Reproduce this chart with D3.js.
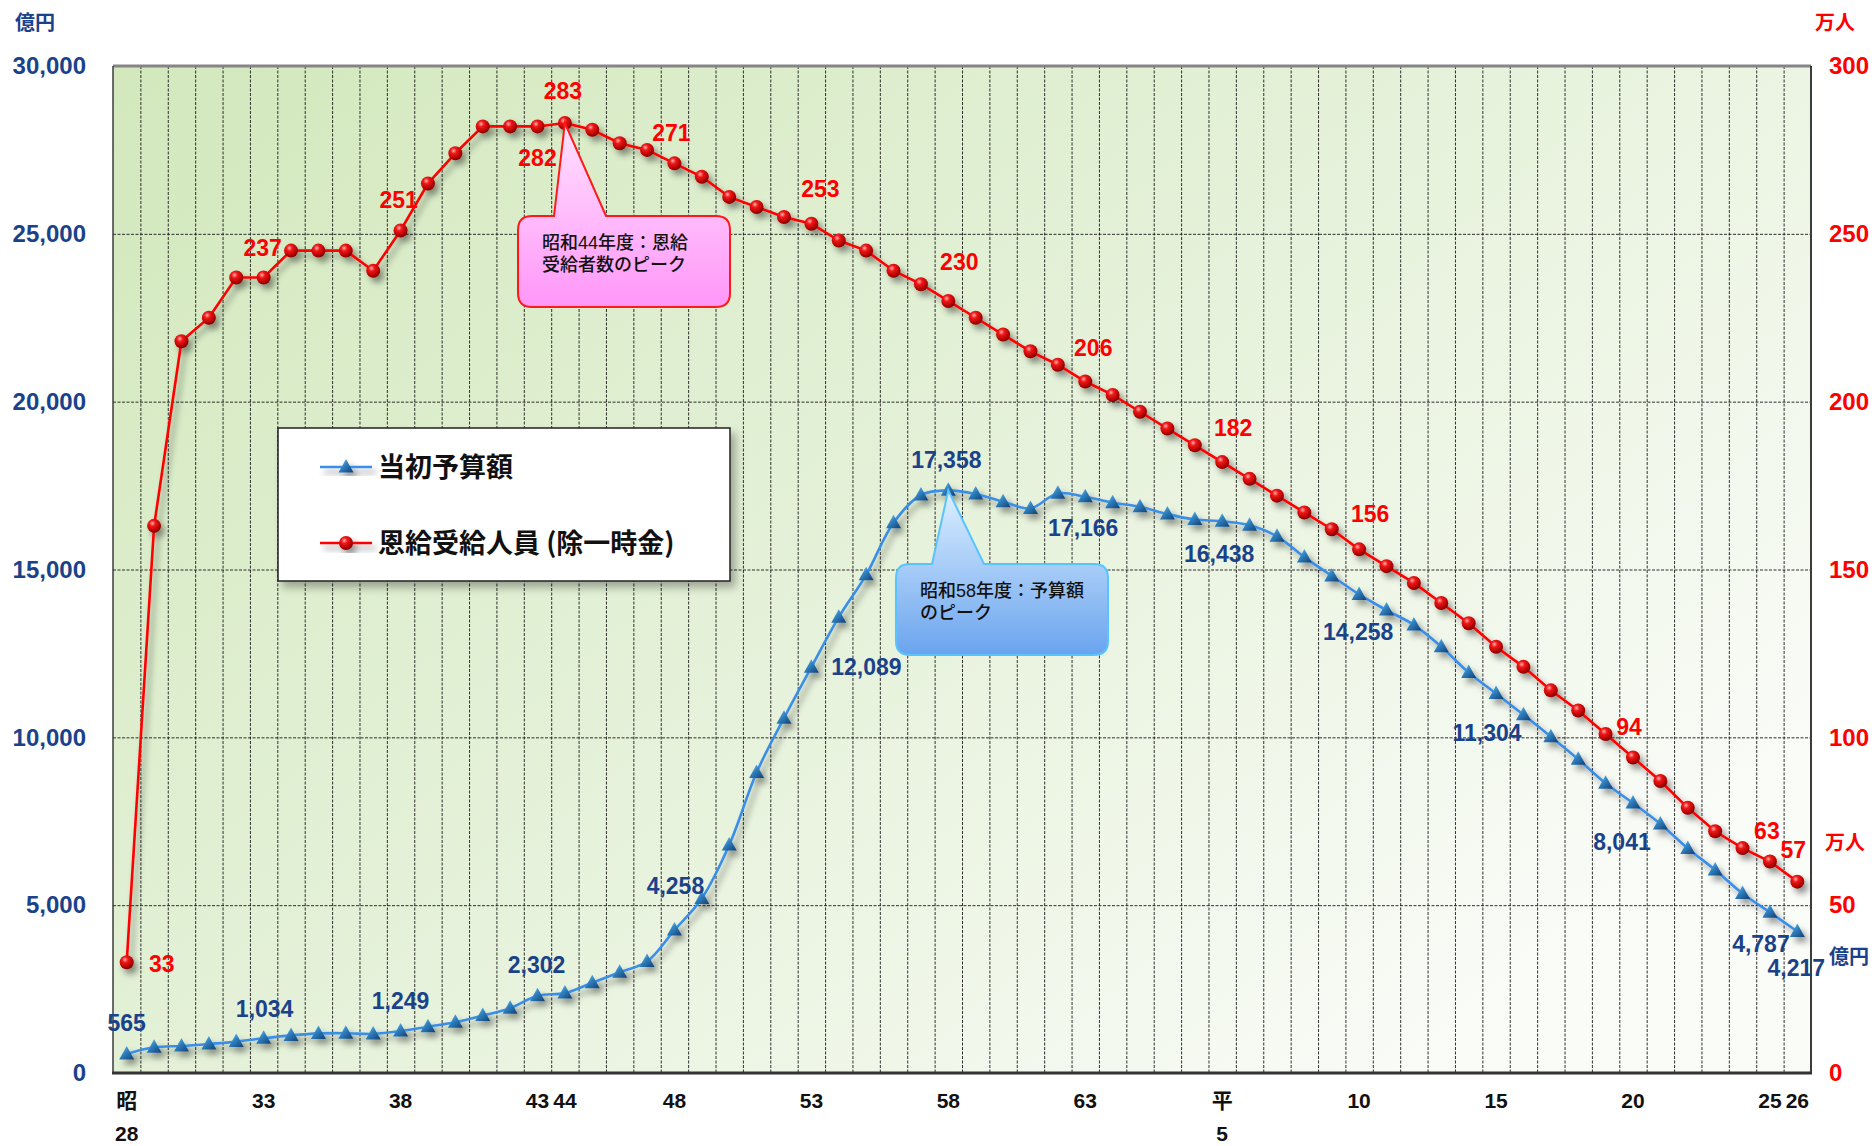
<!DOCTYPE html>
<html>
<head>
<meta charset="utf-8">
<script src="https://cdn.jsdelivr.net/npm/d3@7"></script>
<style>
  html, body { margin: 0; padding: 0; background: #fff; }
  svg { display: block; }
</style>
</head>
<body>
<svg id="chart" width="1874" height="1146"></svg>
<script>
// Fiscal years 昭和28 (1953) – 平成26 (2014)
const years = d3.range(1953, 2015);

// 当初予算額 (億円)
const budget = [
  565, 765, 805, 865, 935, 1034, 1120, 1180, 1185, 1165,
  1249, 1380, 1510, 1710, 1930, 2302, 2380, 2690, 3000, 3320,
  4258, 5200, 6790, 8950, 10570, 12089, 13580, 14840, 16390, 17220,
  17358, 17250, 17020, 16820, 17270, 17166, 16990, 16870, 16650, 16490,
  16438, 16320, 15990, 15370, 14810, 14258, 13790, 13350, 12700, 11930,
  11304, 10670, 10020, 9350, 8630, 8041, 7420, 6690, 6050, 5350,
  4787, 4217
];

// 恩給受給人員（除一時金）(万人)
const recipients = [
  33, 163, 218, 225, 237, 237, 245, 245, 245, 239,
  251, 265, 274, 282, 282, 282, 283, 281, 277, 275,
  271, 267, 261, 258, 255, 253, 248, 245, 239, 235,
  230, 225, 220, 215, 211, 206, 202, 197, 192, 187,
  182, 177, 172, 167, 162, 156, 151, 146, 140, 134,
  127, 121, 114, 108, 101, 94, 87, 79, 72, 67,
  63, 57
];

// Category axis labels (index into years → text lines)
const xTickIndex = [0, 5, 10, 15, 16, 20, 25, 30, 35, 40, 45, 50, 55, 60, 61];
const xTickText = [["昭", "28"], ["33"], ["38"], ["43"], ["44"], ["48"], ["53"], ["58"], ["63"],
                   ["平", "5"], ["10"], ["15"], ["20"], ["25"], ["26"]];

const leftTicks = [0, 5000, 10000, 15000, 20000, 25000, 30000];
const rightTicks = [0, 50, 100, 150, 200, 250, 300];

const seriesNames = ["当初予算額", "恩給受給人員 (除一時金)"];
const noteRecipients = ["昭和44年度：恩給", "受給者数のピーク"];
const noteBudget = ["昭和58年度：予算額", "のピーク"];

// Which points carry a value label, and where the label sits relative to the point
const budgetLabels = [
  {i: 0, dx: 0, dy: -31}, {i: 5, dx: 1, dy: -30}, {i: 10, dx: 0, dy: -30},
  {i: 15, dx: -1, dy: -31}, {i: 20, dx: 1, dy: -44}, {i: 25, dx: 55, dy: 0},
  {i: 30, dx: -2, dy: -31}, {i: 35, dx: -2, dy: 31}, {i: 40, dx: -3, dy: 32},
  {i: 45, dx: -1, dy: 37}, {i: 50, dx: -9, dy: 39}, {i: 55, dx: -11, dy: 39},
  {i: 60, dx: -9, dy: 31}, {i: 61, dx: -1, dy: 36}
];
const recipientLabels = [
  {i: 0, dx: 35, dy: 1}, {i: 5, dx: -1, dy: -30}, {i: 10, dx: -2, dy: -31},
  {i: 15, dx: 0, dy: 31}, {i: 16, dx: -2, dy: -32}, {i: 20, dx: -3, dy: -31},
  {i: 25, dx: 9, dy: -35}, {i: 30, dx: 11, dy: -39}, {i: 35, dx: 8, dy: -34},
  {i: 40, dx: 11, dy: -34}, {i: 45, dx: 11, dy: -36}, {i: 55, dx: -4, dy: -31},
  {i: 60, dx: -3, dy: -31}, {i: 61, dx: -4, dy: -32}
];

// ---- layout ----
const plot = {left: 113, right: 1811, top: 66, bottom: 1073};
const NAVY = "#1a428a";
const RED = "#ff0000";
const BLUE_LINE = "#3a8ee8";
const NUM_FONT = "'Liberation Sans', Arial, 'Noto Sans CJK JP', sans-serif";
const JP_FONT = "'Noto Sans CJK JP', 'Noto Sans', sans-serif";
const NOTE_FONT = "'Liberation Sans', 'Noto Sans CJK JP', sans-serif";

const svg = d3.select("#chart");

const x = d3.scaleBand().domain(years).range([plot.left, plot.right]).padding(0);
const cx = i => x(years[i]) + x.bandwidth() / 2;
const yL = d3.scaleLinear().domain([0, 30000]).range([plot.bottom, plot.top]);
const yR = d3.scaleLinear().domain([0, 300]).range([plot.bottom, plot.top]);

// ---- defs ----
const defs = svg.append("defs");

const bg = defs.append("linearGradient").attr("id", "plotBg")
  .attr("x1", 0).attr("y1", 0).attr("x2", 1).attr("y2", 0.7);
bg.append("stop").attr("offset", 0).attr("stop-color", "#d2e8bc");
bg.append("stop").attr("offset", 0.5).attr("stop-color", "#e4f1d8");
bg.append("stop").attr("offset", 1).attr("stop-color", "#fafcf8");

const sphere = defs.append("radialGradient").attr("id", "sphere")
  .attr("cx", "38%").attr("cy", "32%").attr("r", "70%");
sphere.append("stop").attr("offset", 0).attr("stop-color", "#ffb0b0");
sphere.append("stop").attr("offset", 0.3).attr("stop-color", "#f01818");
sphere.append("stop").attr("offset", 0.8).attr("stop-color", "#b00000");
sphere.append("stop").attr("offset", 1).attr("stop-color", "#700000");

const tri = defs.append("linearGradient").attr("id", "tri")
  .attr("x1", 0).attr("y1", 0).attr("x2", 1).attr("y2", 1);
tri.append("stop").attr("offset", 0).attr("stop-color", "#7fcaf2");
tri.append("stop").attr("offset", 0.45).attr("stop-color", "#2f80c0");
tri.append("stop").attr("offset", 1).attr("stop-color", "#123e72");

const pink = defs.append("linearGradient").attr("id", "pinkFill")
  .attr("x1", 0).attr("y1", 0).attr("x2", 0).attr("y2", 1);
pink.append("stop").attr("offset", 0).attr("stop-color", "#ffe2ff");
pink.append("stop").attr("offset", 1).attr("stop-color", "#ff96f8");

const sky = defs.append("linearGradient").attr("id", "skyFill")
  .attr("x1", 0).attr("y1", 0).attr("x2", 0).attr("y2", 1);
sky.append("stop").attr("offset", 0).attr("stop-color", "#dcefff");
sky.append("stop").attr("offset", 1).attr("stop-color", "#6aa4ee");

const shadow = defs.append("filter").attr("id", "shadow")
  .attr("x", "-10%").attr("y", "-10%").attr("width", "130%").attr("height", "130%");
shadow.append("feDropShadow").attr("dx", 4).attr("dy", 5).attr("stdDeviation", 3)
  .attr("flood-color", "#000").attr("flood-opacity", 0.42);

const boxShadow = defs.append("filter").attr("id", "boxShadow")
  .attr("x", "-10%").attr("y", "-10%").attr("width", "130%").attr("height", "130%");
boxShadow.append("feDropShadow").attr("dx", 5).attr("dy", 6).attr("stdDeviation", 4)
  .attr("flood-color", "#000").attr("flood-opacity", 0.3);

// ---- plot background ----
svg.append("rect")
  .attr("x", plot.left).attr("y", plot.top)
  .attr("width", plot.right - plot.left).attr("height", plot.bottom - plot.top)
  .attr("fill", "url(#plotBg)");

// ---- grid ----
const grid = svg.append("g").attr("stroke", "#1a1a1a").attr("stroke-width", 0.9)
  .attr("stroke-dasharray", "3,1.5");
grid.selectAll("line.v").data(years.slice(1)).join("line")
  .attr("class", "v")
  .attr("x1", d => x(d) + 0.5).attr("x2", d => x(d) + 0.5)
  .attr("y1", plot.top).attr("y2", plot.bottom);
grid.selectAll("line.h").data(leftTicks.filter(t => t > 0 && t < 30000)).join("line")
  .attr("class", "h")
  .attr("x1", plot.left).attr("x2", plot.right)
  .attr("y1", d => yL(d) + 0.5).attr("y2", d => yL(d) + 0.5);

// ---- frame ----
svg.append("line").attr("x1", plot.left).attr("x2", plot.right)
  .attr("y1", plot.top).attr("y2", plot.top)
  .attr("stroke", "#858585").attr("stroke-width", 3);
svg.append("line").attr("x1", plot.left).attr("x2", plot.left)
  .attr("y1", plot.top).attr("y2", plot.bottom)
  .attr("stroke", "#3c3c3c").attr("stroke-width", 1.5);
svg.append("line").attr("x1", plot.right).attr("x2", plot.right)
  .attr("y1", plot.top).attr("y2", plot.bottom)
  .attr("stroke", "#3c3c3c").attr("stroke-width", 2);
svg.append("line").attr("x1", plot.left - 1).attr("x2", plot.right + 1)
  .attr("y1", plot.bottom).attr("y2", plot.bottom)
  .attr("stroke", "#333").attr("stroke-width", 3);

// ---- axes ----
const axL = svg.append("g").attr("transform", `translate(${plot.left},0)`)
  .call(d3.axisLeft(yL).tickValues(leftTicks).tickFormat(d3.format(",")).tickSize(0).tickPadding(27));
axL.select(".domain").remove();
axL.selectAll("text").attr("fill", NAVY).attr("font-family", NUM_FONT)
  .attr("font-weight", "bold").attr("font-size", 24);

const axR = svg.append("g").attr("transform", `translate(${plot.right},0)`)
  .call(d3.axisRight(yR).tickValues(rightTicks).tickSize(0).tickPadding(18));
axR.select(".domain").remove();
axR.selectAll("text").attr("fill", RED).attr("font-family", NUM_FONT)
  .attr("font-weight", "bold").attr("font-size", 24);

const axB = svg.append("g").attr("transform", `translate(0,${plot.bottom})`)
  .call(d3.axisBottom(x).tickValues(xTickIndex.map(i => years[i])).tickSize(0).tickFormat(""));
axB.select(".domain").remove();
axB.selectAll(".tick text").each(function(d) {
  const k = xTickIndex.indexOf(years.indexOf(d));
  const t = d3.select(this).attr("y", 0).attr("dy", null)
    .attr("fill", "#111").attr("font-family", NUM_FONT)
    .attr("font-weight", "bold").attr("font-size", 21);
  xTickText[k].forEach((s, j) => {
    t.append("tspan").attr("x", 0).attr("y", 35 + j * 33).text(s);
  });
});

// unit captions
svg.append("text").attr("x", 35).attr("y", 30).attr("text-anchor", "middle")
  .attr("font-family", JP_FONT).attr("font-weight", "bold").attr("font-size", 20)
  .attr("fill", NAVY).text("億円");
svg.append("text").attr("x", 1835).attr("y", 30).attr("text-anchor", "middle")
  .attr("font-family", JP_FONT).attr("font-weight", "bold").attr("font-size", 20)
  .attr("fill", RED).text("万人");

// ---- series: recipients (right axis) ----
const redG = svg.append("g").attr("filter", "url(#shadow)");
redG.append("path")
  .attr("d", d3.line().x((d, i) => cx(i)).y(d => yR(d))(recipients))
  .attr("fill", "none").attr("stroke", RED).attr("stroke-width", 2.6);
redG.selectAll("circle").data(recipients).join("circle")
  .attr("cx", (d, i) => cx(i)).attr("cy", d => yR(d)).attr("r", 7)
  .attr("fill", "url(#sphere)");

// ---- series: budget (left axis) ----
const triPath = "M0,-8 L7.5,5.5 L-7.5,5.5 Z";
const blueG = svg.append("g").attr("filter", "url(#shadow)");
blueG.append("path")
  .attr("d", d3.line().x((d, i) => cx(i)).y(d => yL(d)).curve(d3.curveCatmullRom.alpha(0.5))(budget))
  .attr("fill", "none").attr("stroke", BLUE_LINE).attr("stroke-width", 2.6);
blueG.selectAll("path.m").data(budget).join("path")
  .attr("class", "m")
  .attr("transform", (d, i) => `translate(${cx(i)},${yL(d)})`)
  .attr("d", triPath).attr("fill", "url(#tri)");

// ---- callouts ----
function callout(x0, y0, x1, y1, r, bx0, bx1, ax, ay) {
  return `M${x0 + r},${y0} L${bx0},${y0} L${ax},${ay} L${bx1},${y0} L${x1 - r},${y0}
    Q${x1},${y0} ${x1},${y0 + r} L${x1},${y1 - r} Q${x1},${y1} ${x1 - r},${y1}
    L${x0 + r},${y1} Q${x0},${y1} ${x0},${y1 - r} L${x0},${y0 + r} Q${x0},${y0} ${x0 + r},${y0} Z`;
}
const peakR = recipients.indexOf(d3.max(recipients));
const peakB = budget.indexOf(d3.max(budget));

svg.append("path")
  .attr("d", callout(518, 216, 730, 307, 14, 554, 606, cx(peakR), yR(recipients[peakR])))
  .attr("fill", "url(#pinkFill)").attr("stroke", "#ff1a1a").attr("stroke-width", 2);
svg.append("g").selectAll("text").data(noteRecipients).join("text")
  .attr("font-family", NOTE_FONT).attr("font-size", 18).attr("font-weight", 500)
  .attr("fill", "#111")
  .attr("x", 542).attr("y", (d, i) => 249 + i * 22).text(d => d);

svg.append("path")
  .attr("d", callout(896, 564, 1108, 655, 14, 932, 984, cx(peakB), yL(budget[peakB])))
  .attr("fill", "url(#skyFill)").attr("stroke", "#58c4ff").attr("stroke-width", 2);
svg.append("g").selectAll("text").data(noteBudget).join("text")
  .attr("font-family", NOTE_FONT).attr("font-size", 18).attr("font-weight", 500)
  .attr("fill", "#111")
  .attr("x", 920).attr("y", (d, i) => 597 + i * 22).text(d => d);

// ---- legend ----
const lg = svg.append("g");
lg.append("rect").attr("x", 278).attr("y", 428).attr("width", 452).attr("height", 153)
  .attr("fill", "#fff").attr("stroke", "#222").attr("stroke-width", 1.5)
  .attr("filter", "url(#boxShadow)");
const legendRows = [
  {name: seriesNames[0], color: BLUE_LINE, y: 467, kind: "tri"},
  {name: seriesNames[1], color: RED, y: 543, kind: "dot"}
];
legendRows.forEach(row => {
  const item = lg.append("g").attr("filter", "url(#shadow)");
  item.append("line").attr("x1", 320).attr("x2", 372).attr("y1", row.y).attr("y2", row.y)
    .attr("stroke", row.color).attr("stroke-width", 2.6);
  if (row.kind === "tri") {
    item.append("path").attr("transform", `translate(346,${row.y})`).attr("d", triPath)
      .attr("fill", "url(#tri)");
  } else {
    item.append("circle").attr("cx", 346).attr("cy", row.y).attr("r", 7).attr("fill", "url(#sphere)");
  }
  lg.append("text").attr("x", 378).attr("y", row.y).attr("dy", "0.36em")
    .attr("font-family", JP_FONT).attr("font-weight", "bold").attr("font-size", 27)
    .attr("fill", "#111").text(row.name);
});

// ---- value labels ----
const fmt = d3.format(",");
svg.append("g").selectAll("text").data(budgetLabels).join("text")
  .attr("x", d => cx(d.i) + d.dx).attr("y", d => yL(budget[d.i]) + d.dy).attr("dy", "0.36em")
  .attr("text-anchor", "middle").attr("font-family", NUM_FONT).attr("font-weight", "bold")
  .attr("font-size", 23).attr("fill", NAVY)
  .text(d => fmt(budget[d.i]));

svg.append("g").selectAll("text").data(recipientLabels).join("text")
  .attr("x", d => cx(d.i) + d.dx).attr("y", d => yR(recipients[d.i]) + d.dy).attr("dy", "0.36em")
  .attr("text-anchor", "middle").attr("font-family", NUM_FONT).attr("font-weight", "bold")
  .attr("font-size", 23).attr("fill", RED)
  .text(d => recipients[d.i]);

// end-of-series unit notes
svg.append("text").attr("x", 1845).attr("y", 843).attr("dy", "0.36em").attr("text-anchor", "middle")
  .attr("font-family", JP_FONT).attr("font-weight", "bold").attr("font-size", 20)
  .attr("fill", RED).text("万人");
svg.append("text").attr("x", 1849).attr("y", 957).attr("dy", "0.36em").attr("text-anchor", "middle")
  .attr("font-family", JP_FONT).attr("font-weight", "bold").attr("font-size", 20)
  .attr("fill", NAVY).text("億円");
</script>
</body>
</html>
